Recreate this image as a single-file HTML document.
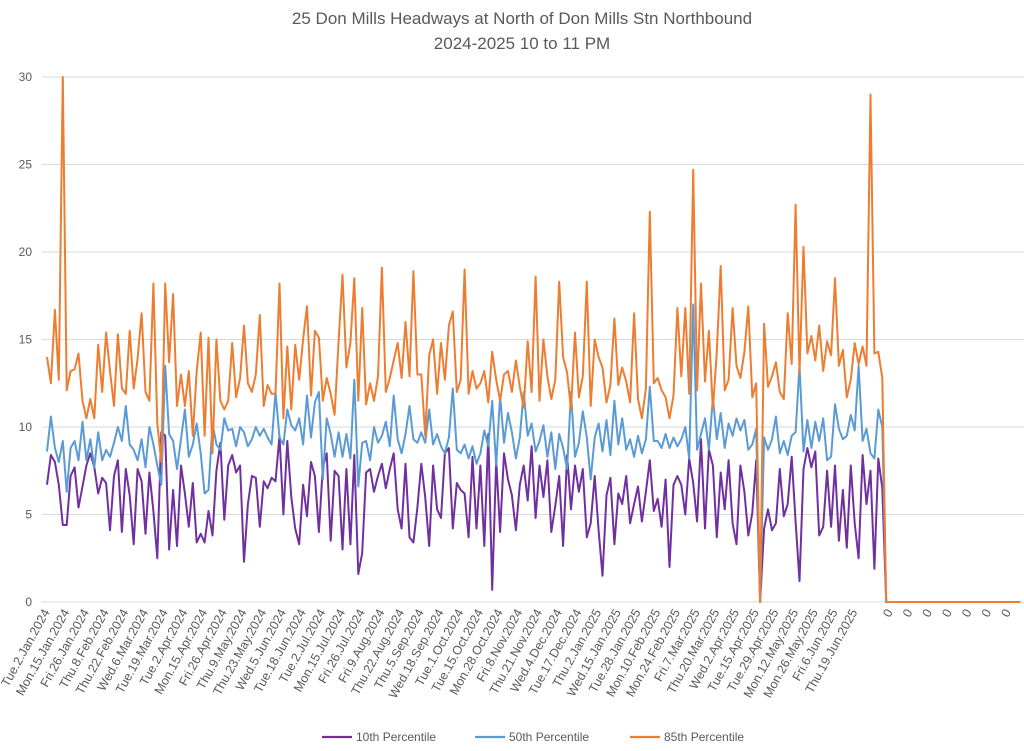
<!DOCTYPE html>
<html><head><meta charset="utf-8"><style>
body{margin:0;background:#fff;font-family:"Liberation Sans",sans-serif;}
svg text{font-family:"Liberation Sans",sans-serif;fill:#595959;}
</style></head><body>
<svg id="chart" width="1024" height="746" viewBox="0 0 1024 746" xmlns="http://www.w3.org/2000/svg">
<text x="522" y="24" text-anchor="middle" font-size="17">25 Don Mills Headways at North of Don Mills Stn Northbound</text>
<text x="522" y="49" text-anchor="middle" font-size="17">2024-2025 10 to 11 PM</text>
<g id="grid"></g><g id="xlabels"></g><g id="series"></g>
<g>
<line x1="322" y1="737" x2="352" y2="737" stroke="#7030a0" stroke-width="2.2"/><text x="356" y="741" font-size="12">10th Percentile</text>
<line x1="475" y1="737" x2="505" y2="737" stroke="#5b9bd5" stroke-width="2.2"/><text x="509" y="741" font-size="12">50th Percentile</text>
<line x1="630" y1="737" x2="660" y2="737" stroke="#ed7d31" stroke-width="2.2"/><text x="664" y="741" font-size="12">85th Percentile</text>
</g>
</svg>
<script>
const yTicks=[0,5,10,15,20,25,30];
const dateLabels=["Tue.2.Jan.2024","Mon.15.Jan.2024","Fri.26.Jan.2024","Thu.8.Feb.2024","Thu.22.Feb.2024","Wed.6.Mar.2024","Tue.19.Mar.2024","Tue.2.Apr.2024","Mon.15.Apr.2024","Fri.26.Apr.2024","Thu.9.May.2024","Thu.23.May.2024","Wed.5.Jun.2024","Tue.18.Jun.2024","Tue.2.Jul.2024","Mon.15.Jul.2024","Fri.26.Jul.2024","Fri.9.Aug.2024","Thu.22.Aug.2024","Thu.5.Sep.2024","Wed.18.Sep.2024","Tue.1.Oct.2024","Tue.15.Oct.2024","Mon.28.Oct.2024","Fri.8.Nov.2024","Thu.21.Nov.2024","Wed.4.Dec.2024","Tue.17.Dec.2024","Thu.2.Jan.2025","Wed.15.Jan.2025","Tue.28.Jan.2025","Mon.10.Feb.2025","Mon.24.Feb.2025","Fri.7.Mar.2025","Thu.20.Mar.2025","Wed.2.Apr.2025","Tue.15.Apr.2025","Tue.29.Apr.2025","Mon.12.May.2025","Mon.26.May.2025","Fri.6.Jun.2025","Thu.19.Jun.2025"];
const zeroLabels=["0","0","0","0","0","0","0"];
const p85=[14,12.5,16.7,12.7,30,12.1,13.2,13.3,14.2,11.5,10.5,11.6,10.5,14.7,12,15.4,13.2,11.2,15.3,12.2,11.9,15.5,12.2,13.9,16.5,12,11.5,18.2,10.2,8,18.2,13.7,17.6,11.2,13,11.2,13.2,9.5,13.2,15.4,9.5,15.1,8.5,15,11.5,11,11.5,14.8,11.7,12.8,15.8,12.5,12,13,16.4,11.2,12.4,11.9,11.9,18.2,10.5,14.6,11,14.7,12.7,15,16.9,11.8,15.5,15.1,11.5,12.8,11.9,10.7,14.9,18.7,13.4,14.8,18.5,11.5,16.8,11.3,12.5,11.5,12.9,19.1,12,12.8,13.8,14.8,12.8,16,12.9,18.9,13,13,9.5,14.1,15,11.9,14.8,12.7,15.8,16.6,12,12.7,19,11.9,13.2,12.2,12.5,13.2,11.4,14.3,12.7,11.5,13,13.2,12,13.8,12.3,11.1,14.9,12,18.6,11.5,15,12.9,11.6,12.7,18.3,14,13.1,11,15.4,11.7,12.9,18.3,11.2,15,14,13.4,11.4,12.4,16.2,12.4,13.4,12.6,11.4,16.5,11.6,10.5,12.2,22.3,12.5,12.8,12.1,11.7,10.5,11.8,16.8,12.9,16.8,11.9,24.7,12.1,18.2,12.6,15.5,11,14.3,19.2,12.1,12.7,16.8,13.5,12.8,14.3,16.9,11.7,12.5,0,15.9,12.3,12.9,13.7,12,11.6,16.5,13.6,22.7,13.1,20.3,14.2,15.2,13.8,15.8,13.2,14.9,14.1,18.5,13.5,14.4,11.7,12.7,14.8,13.6,14.6,13.5,29,14.2,14.3,12.8];
const p50=[8.6,10.6,8.8,8,9.2,6.3,8.8,9.2,8.1,10.3,8.1,9.3,7.7,9.7,8.1,8.7,8.3,9.1,10,9.2,11.2,9,8.7,8.1,9.3,7.7,10,9,7.8,6.7,13.5,9.6,9.2,7.6,9.3,11,8.3,9,10.2,8.5,6.2,6.4,10.2,9,8.7,10.5,9.8,9.9,8.9,10,9.7,8.9,9.3,10,9.5,9.9,9.4,9,12,9.4,9,11,10.1,9.8,10.5,9,11.8,9.4,11.4,12,7,10.5,9.6,8.3,9.7,8.3,9.6,8.2,12.7,6.6,9.1,9.2,8.1,10,9.1,9.5,10.3,8.9,11.8,9.3,8.5,9.6,11.2,9.3,9.1,9.7,9.1,11,9,9.6,8.9,8.5,9.4,12.2,8.7,8.5,9,8.2,8.9,7.9,8.5,9.8,8.9,11.5,7.8,11.8,9.1,10.8,9.7,8.2,9.4,12,9.5,10.2,8.6,9.2,10.1,8.3,9.7,7.6,9.6,8.8,7.6,12,8.3,9.1,10.9,9.4,7,9.4,10.2,8.6,10.4,8.4,11.5,9,10.5,8.7,9.3,8.3,9.5,8.5,9.3,12.3,9.2,9.2,8.8,9.6,8.8,9.4,8.9,9.3,10,8.2,17,8.7,9.6,10.5,8.7,11.7,9.3,10.8,8.8,10.2,9.5,10.5,9.8,10.4,8.7,9,9.9,0,9.4,8.7,9.3,10.6,8.5,9.2,8.4,9.5,9.7,13.5,8.6,10.4,8.8,10.3,9.2,10.5,8.1,8.3,11.3,9.9,9.3,9.5,10.7,9.8,13.5,9.2,9.9,8.5,8.2,11,10];
const p10=[6.7,8.4,8,6.7,4.4,4.4,7.2,7.7,5.4,6.6,7.8,8.5,7.7,6.2,7.1,6.8,4.1,7.2,8.1,4,7.6,6.1,3.3,7.6,6.9,3.9,7.4,5.2,2.5,9.7,9.5,3,6.4,3.2,7.8,6.2,4.3,6.8,3.4,3.9,3.4,5.2,3.8,7.5,9.1,4.7,7.8,8.4,7.4,7.8,2.3,5.6,7.2,7.1,4.3,6.9,6.5,7.1,6.9,9.5,5,9.2,6,4.2,3.3,6.7,4.9,8,7.2,4,7.7,8.5,3.5,7.5,7.2,3,7.6,3.3,8.4,1.6,2.8,7.4,7.6,6.3,7.2,7.9,6.5,7.6,8.5,5.3,4.2,7.9,3.7,3.4,5.4,7.9,6,3.2,7.8,5.3,4.8,8.5,8.8,4.2,6.8,6.4,6.2,3.7,8.3,4.2,7.8,3.2,9.6,0.7,8.1,4,8.5,7,6.1,4.1,6.7,7.8,5.8,8.9,4.8,7.8,6,8.1,4,5.5,7.2,3.2,8.4,5.3,7.8,6.3,7.6,3.7,4.5,7.2,4.1,1.5,6.1,7.1,3.3,6.2,5.6,7.2,4.5,5.6,6.6,4.6,6.3,8.1,5.2,5.9,4.3,7,2,6.7,7.2,6.7,5,8.2,6.8,4.6,9.3,4.2,8.7,7.8,3.7,7.4,5.3,8.1,4.5,3.3,7.8,6.3,3.8,5.1,8.1,0,4.2,5.3,4.1,4.5,7.6,4.9,5.6,8.3,4.6,1.2,7.6,8.8,7.7,8.6,3.8,4.3,7.5,4.3,7.8,3.5,6.4,3.1,7.8,4.5,2.5,8.4,5.6,7.5,1.9,8.2,6.5];
const zeroCount=35;
const NS="http://www.w3.org/2000/svg";
const X0=47, STEP=3.94, Y0=602, YS=17.5;
const xs=i=>X0+i*STEP, ys=v=>Y0-v*YS;
const grid=document.getElementById('grid');
yTicks.forEach(t=>{
 const l=document.createElementNS(NS,'line');
 
 
 l.setAttribute('x1',42);l.setAttribute('x2',1024);l.setAttribute('y1',ys(t));l.setAttribute('y2',ys(t));
 l.setAttribute('stroke','#d9d9d9');l.setAttribute('stroke-width','1');grid.appendChild(l);
 const tx=document.createElementNS(NS,'text');
 
 
 tx.setAttribute('x',32);tx.setAttribute('y',ys(t)+4);tx.setAttribute('text-anchor','end');tx.setAttribute('font-size','12');
 tx.textContent=t;grid.appendChild(tx);
});
const xl=document.getElementById('xlabels');
function addLabel(txt,i){
 const x=xs(i)+3,y=612;
 const t=document.createElementNS(NS,'text');
 
 
 t.setAttribute('x',x);t.setAttribute('y',y);t.setAttribute('text-anchor','end');t.setAttribute('font-size','12.5');
 t.setAttribute('transform','rotate(-61 '+x+' '+y+')');t.textContent=txt;xl.appendChild(t);
}
dateLabels.forEach((s,k)=>addLabel(s,k*5));
zeroLabels.forEach((s,k)=>addLabel(s,p85.length+1+k*5));
const sg=document.getElementById('series');
function draw(arr,color,name){
 const full=arr.concat(new Array(zeroCount).fill(0));
 const p=document.createElementNS(NS,'polyline');
 
 
 p.setAttribute('points',full.map((v,i)=>xs(i).toFixed(1)+','+ys(v).toFixed(1)).join(' '));
 p.setAttribute('fill','none');p.setAttribute('stroke',color);p.setAttribute('stroke-width','2');p.setAttribute('stroke-linejoin','round');
 sg.appendChild(p);
}
draw(p10,'#7030a0','series-10th-percentile');
draw(p50,'#5b9bd5','series-50th-percentile');
draw(p85,'#ed7d31','series-85th-percentile');
</script>
</body></html>
